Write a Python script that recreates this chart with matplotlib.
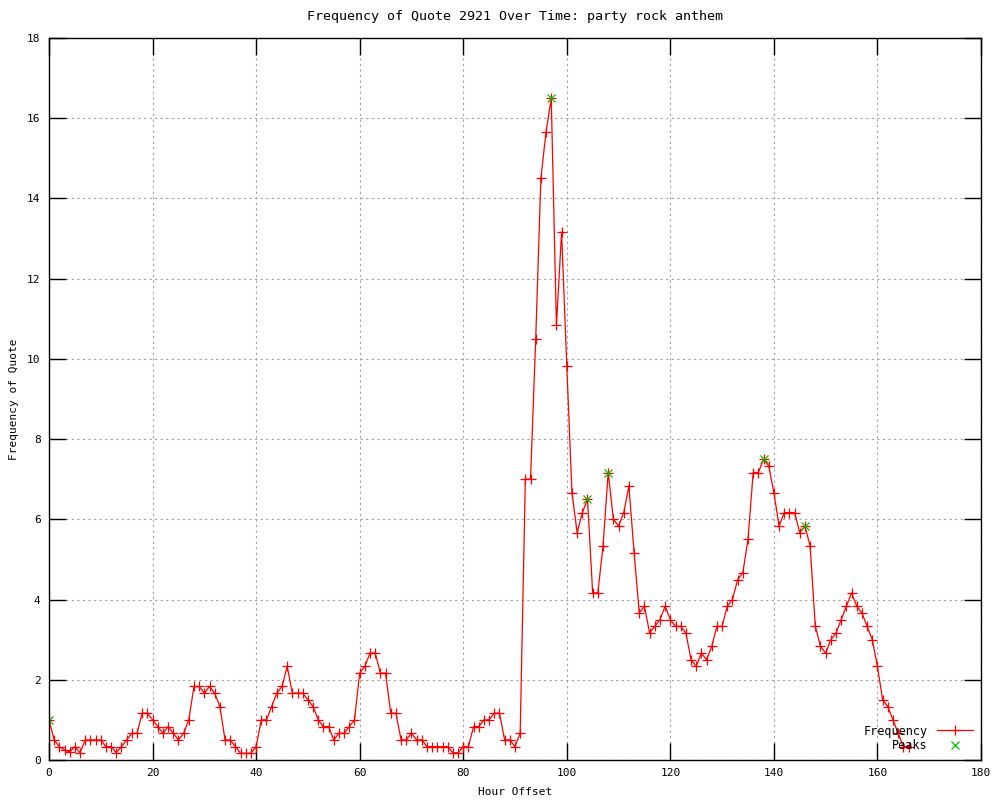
import matplotlib
matplotlib.use("Agg")
import matplotlib.pyplot as plt

# hourly quote frequency (hours 0..166)
freq = [1.0, 0.5, 0.333, 0.25, 0.2, 0.333, 0.18, 0.5, 0.5, 0.5,
        0.5, 0.333, 0.333, 0.18, 0.333, 0.5, 0.667, 0.667, 1.167, 1.167,
        1.0, 0.833, 0.667, 0.833, 0.667, 0.5, 0.667, 1.0, 1.833, 1.833,
        1.667, 1.833, 1.667, 1.333, 0.5, 0.5, 0.333, 0.167, 0.167, 0.167,
        0.333, 1.0, 1.0, 1.333, 1.667, 1.833, 2.333, 1.667, 1.667, 1.667,
        1.5, 1.333, 1.0, 0.833, 0.833, 0.5, 0.667, 0.667, 0.833, 1.0,
        2.167, 2.333, 2.667, 2.667, 2.167, 2.167, 1.167, 1.167, 0.5, 0.5,
        0.667, 0.5, 0.5, 0.333, 0.333, 0.333, 0.333, 0.333, 0.18, 0.18,
        0.333, 0.333, 0.833, 0.833, 1.0, 1.0, 1.167, 1.167, 0.5, 0.5,
        0.333, 0.667, 7.0, 7.0, 10.5, 14.5, 15.667, 16.5, 10.833, 13.167,
        9.833, 6.667, 5.667, 6.167, 6.5, 4.167, 4.167, 5.333, 7.167, 6.0,
        5.833, 6.167, 6.833, 5.167, 3.667, 3.833, 3.167, 3.333, 3.5, 3.833,
        3.5, 3.333, 3.333, 3.167, 2.5, 2.333, 2.667, 2.5, 2.833, 3.333,
        3.333, 3.833, 4.0, 4.5, 4.667, 5.5, 7.167, 7.167, 7.5, 7.333,
        6.667, 5.833, 6.167, 6.167, 6.167, 5.667, 5.833, 5.333, 3.333, 2.833,
        2.667, 3.0, 3.167, 3.5, 3.833, 4.167, 3.833, 3.667, 3.333, 3.0,
        2.333, 1.5, 1.333, 1.0, 0.667, 0.333, 0.333]
hours = list(range(len(freq)))

peak_hours = [0, 97, 104, 108, 138, 146]
peak_vals = [freq[h] for h in peak_hours]

plt.rcParams['font.family'] = 'DejaVu Sans Mono'
plt.rcParams['font.size'] = 8

fig = plt.figure(figsize=(10, 8), dpi=100)
ax = fig.add_axes([0.049, 0.05, 0.932, 0.9025])

ax.plot(hours, freq, color='red', linewidth=0.9, marker='+', markersize=7,
        markeredgewidth=0.9, label='Frequency')
ax.plot(peak_hours, peak_vals, linestyle='none', color='#00c000', marker='x',
        markersize=6, markeredgewidth=0.9, label='Peaks')

ax.set_xlim(0, 180)
ax.set_ylim(0, 18)
ax.set_xticks(range(0, 181, 20))
ax.set_yticks(range(0, 19, 2))
ax.tick_params(direction='in', length=12, width=1, top=True, right=True, pad=6)
ax.grid(True, color='#a0a0a0', linestyle=(0, (2, 3)), linewidth=0.8)
for s in ax.spines.values():
    s.set_linewidth(1)

ax.set_title('Frequency of Quote 2921 Over Time: party rock anthem', pad=13)
ax.set_xlabel('Hour Offset', labelpad=6)
ax.set_ylabel('Frequency of Quote')
ax.yaxis.set_label_coords(-0.032, 0.5)

ax.legend(loc='lower right', frameon=False, markerfirst=False, handlelength=3,
          borderaxespad=0.3, labelspacing=0.1, fontsize=8.5)

fig.savefig('out.png', dpi=100)
